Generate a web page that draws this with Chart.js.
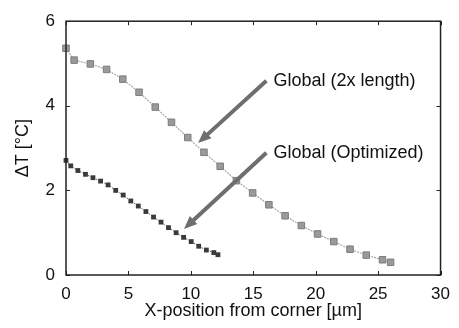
<!DOCTYPE html>
<html>
<head>
<meta charset="utf-8">
<script src="https://cdn.jsdelivr.net/npm/chart.js@4"></script>
<style>
html,body{margin:0;padding:0;background:#fff;}
#wrap{width:459px;height:328px;position:relative;}
</style>
</head>
<body>
<div id="wrap"><canvas id="c" width="459" height="328"></canvas></div>
<script>
const globalLongX = [0, 0.65, 1.95, 3.25, 4.55, 5.85, 7.15, 8.45, 9.75, 11.05, 12.35, 13.65, 14.95, 16.25, 17.55, 18.85, 20.15, 21.45, 22.75, 24.05, 25.35, 26.0];
const globalLongY = [5.36, 5.08, 4.99, 4.86, 4.63, 4.32, 3.97, 3.61, 3.25, 2.90, 2.57, 2.23, 1.94, 1.66, 1.40, 1.17, 0.97, 0.79, 0.61, 0.47, 0.36, 0.30];
const globalOptX = [0, 0.38, 0.95, 1.56, 2.16, 2.77, 3.37, 3.98, 4.58, 5.19, 5.79, 6.40, 7.01, 7.61, 8.21, 8.82, 9.42, 10.03, 10.63, 11.24, 11.84, 12.17];
const globalOptY = [2.71, 2.58, 2.47, 2.38, 2.30, 2.22, 2.13, 2.00, 1.89, 1.75, 1.63, 1.50, 1.37, 1.25, 1.12, 1.00, 0.89, 0.79, 0.68, 0.59, 0.53, 0.48];
const xTicks = [0, 5, 10, 15, 20, 25, 30];
const yTicks = [0, 2, 4, 6];
const labels = ["Global (2x length)", "Global (Optimized)"];
// arrow tail/head in data units
const arrowTailX = [16.05, 16.05];
const arrowTailY = [4.59, 2.89];
const arrowHeadX = [10.58, 9.45];
const arrowHeadY = [3.12, 1.09];

const toPts = (xs, ys) => xs.map((x, i) => ({x: x, y: ys[i]}));
const FONT = "'Liberation Sans', Arial, sans-serif";

const framePlugin = {
  id: 'frame',
  afterDatasetsDraw(chart) {
    const {ctx, chartArea: a, scales: {x, y}} = chart;
    ctx.save();
    ctx.strokeStyle = '#222';
    ctx.lineWidth = 1.5;
    ctx.strokeRect(a.left, a.top, a.right - a.left, a.bottom - a.top);
    ctx.lineWidth = 1;
    const tl = 4;
    xTicks.forEach(v => {
      const px = Math.round(x.getPixelForValue(v)) + 0.5;
      ctx.beginPath();
      ctx.moveTo(px, a.bottom); ctx.lineTo(px, a.bottom - tl);
      ctx.moveTo(px, a.top); ctx.lineTo(px, a.top + tl);
      ctx.stroke();
    });
    yTicks.forEach(v => {
      const py = Math.round(y.getPixelForValue(v)) + 0.5;
      ctx.beginPath();
      ctx.moveTo(a.left, py); ctx.lineTo(a.left + tl, py);
      ctx.moveTo(a.right, py); ctx.lineTo(a.right - tl, py);
      ctx.stroke();
    });
    // arrows + labels
    for (let i = 0; i < labels.length; i++) {
      const x0 = x.getPixelForValue(arrowTailX[i]), y0 = y.getPixelForValue(arrowTailY[i]);
      const x1 = x.getPixelForValue(arrowHeadX[i]), y1 = y.getPixelForValue(arrowHeadY[i]);
      const ang = Math.atan2(y1 - y0, x1 - x0);
      const hl = 13, hw = 5.5;
      const bx = x1 - hl * Math.cos(ang), by = y1 - hl * Math.sin(ang);
      ctx.strokeStyle = '#6e6e6e';
      ctx.fillStyle = '#6e6e6e';
      ctx.lineWidth = 4;
      ctx.lineCap = 'butt';
      ctx.beginPath();
      ctx.moveTo(x0, y0); ctx.lineTo(bx + 2 * Math.cos(ang), by + 2 * Math.sin(ang));
      ctx.stroke();
      ctx.beginPath();
      ctx.moveTo(x1, y1);
      ctx.lineTo(bx + hw * Math.sin(ang), by - hw * Math.cos(ang));
      ctx.lineTo(bx - hw * Math.sin(ang), by + hw * Math.cos(ang));
      ctx.closePath();
      ctx.fill();
      ctx.fillStyle = '#111';
      ctx.font = '18px ' + FONT;
      ctx.textAlign = 'left';
      ctx.textBaseline = 'middle';
      ctx.fillText(labels[i], x0 + 7, y0 + 0.5);
    }
    ctx.restore();
  }
};

new Chart(document.getElementById('c'), {
  type: 'scatter',
  data: {
    datasets: [
      {
        label: labels[0],
        data: toPts(globalLongX, globalLongY),
        showLine: true,
        borderColor: '#a8a8a8',
        borderWidth: 1.2,
        borderDash: [2, 1],
        pointStyle: 'rect',
        pointRadius: 4.6,
        pointBackgroundColor: '#9a9a9a',
        pointBorderColor: '#7c7c7c',
        pointBorderWidth: 1
      },
      {
        label: labels[1],
        data: toPts(globalOptX, globalOptY),
        showLine: true,
        borderColor: '#555',
        borderWidth: 1,
        borderDash: [1.5, 1.5],
        pointStyle: 'rect',
        pointRadius: 3.4,
        pointBackgroundColor: '#3a3a3a',
        pointBorderColor: '#3a3a3a',
        pointBorderWidth: 0
      }
    ]
  },
  options: {
    responsive: false,
    animation: false,
    clip: false,
    layout: {padding: {top: 18, right: 13, left: 0, bottom: 0}},
    plugins: {legend: {display: false}, tooltip: {enabled: false}},
    scales: {
      x: {
        type: 'linear', min: 0, max: 30,
        afterBuildTicks: s => { s.ticks = xTicks.map(v => ({value: v})); },
        afterFit: s => { s.height = 53; },
        grid: {display: false, drawTicks: false},
        border: {display: false},
        ticks: {color: '#111', font: {family: FONT, size: 17}, padding: 9, maxRotation: 0},
        title: {display: true, text: 'X-position from corner [\u00b5m]', color: '#111', font: {family: FONT, size: 18}, padding: {top: 0, bottom: 6}}
      },
      y: {
        type: 'linear', min: 0, max: 6,
        afterBuildTicks: s => { s.ticks = yTicks.map(v => ({value: v})); },
        afterFit: s => { s.width = 66; },
        grid: {display: false, drawTicks: false},
        border: {display: false},
        ticks: {color: '#111', font: {family: FONT, size: 17}, padding: 11},
        title: {display: true, text: '\u0394T [\u00b0C]', color: '#111', font: {family: FONT, size: 18}, padding: {top: 12, bottom: 0}}
      }
    }
  },
  plugins: [framePlugin]
});
</script>
</body>
</html>
